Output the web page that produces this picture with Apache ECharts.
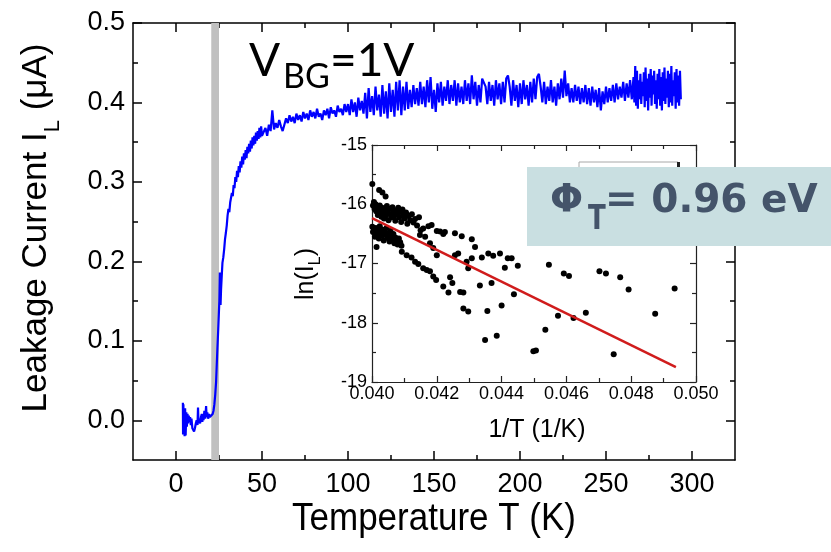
<!DOCTYPE html>
<html>
<head>
<meta charset="utf-8">
<script src="https://cdn.jsdelivr.net/npm/echarts@6/dist/echarts.min.js"></script>
<style>
  html, body { margin: 0; padding: 0; background: #ffffff; }
  #chart { width: 831px; height: 552px; }
</style>
</head>
<body>
<div id="chart"></div>
<script>
// Leakage current sweep, I_L (uA) versus temperature T (K), V_BG = 1 V
const sweep = [
  [4.0,0.022],[4.1,-0.018],[4.3,0.020],[4.5,-0.015],[4.8,0.012],[5.0,-0.020],[5.3,0.015],[5.6,-0.019],
  [6.0,0.010],[6.3,-0.008],[6.7,0.008],[7.0,-0.004],[7.4,0.006],[7.8,-0.002],[8.2,0.004],[8.6,-0.006],
  [9.0,0.002],[9.5,-0.010],[10.0,-0.012],[10.5,-0.014],[11.0,-0.010],[11.5,-0.004],[12.0,0.000],[12.5,-0.006],
  [12.8,0.016],[13.1,-0.004],[13.5,0.002],[14.0,-0.004],[14.5,0.004],[15.0,0.008],[15.3,-0.002],[15.7,0.006],
  [16.0,0.000],[16.5,0.012],[17.0,0.002],[17.5,0.018],[17.8,0.004],[18.2,0.010],[18.7,0.002],[19.2,0.008],
  [19.7,0.004],[20.2,0.006],[20.8,0.004],[21.3,0.008],[21.8,0.012],[22.3,0.020],[22.8,0.032],[23.3,0.048],
  [23.7,0.070],[24.1,0.092],[24.5,0.112],[24.8,0.128],[25.2,0.150],[25.5,0.186],[25.7,0.160],[25.9,0.145],
  [26.2,0.165],[26.6,0.182],[27.0,0.198],[27.5,0.205],[28.0,0.215],[28.5,0.228],[29.0,0.236],[29.5,0.245],
  [30.0,0.258],[30.5,0.266],[31.0,0.262],[31.5,0.274],[32.0,0.276],[32.5,0.286],[33.0,0.282],[33.5,0.296],
  [34.0,0.292],[34.5,0.306],[35.0,0.300],[35.5,0.314],[36.0,0.306],[36.5,0.320],[37.0,0.312],[37.5,0.326],
  [38.0,0.318],[38.5,0.332],[39.0,0.322],[39.5,0.336],[40.0,0.328],[40.5,0.340],[41.0,0.330],[41.5,0.344],
  [42.0,0.336],[42.5,0.348],[43.0,0.338],[43.5,0.352],[44.0,0.342],[44.5,0.356],[45.0,0.346],[45.5,0.358],
  [46.0,0.348],[46.5,0.362],[47.0,0.352],[47.5,0.364],[48.0,0.354],[48.5,0.368],[49.0,0.356],[49.5,0.370],
  [50.0,0.358],[51,0.360],[52,0.368],[53,0.358],[54,0.372],[55,0.364],[56,0.390],[57,0.366],[58,0.374],[59,0.368],
  [60,0.378],[61,0.370],[62,0.364],[63,0.372],[64,0.380],[65,0.374],[66,0.384],[67,0.376],[68,0.382],[69,0.374],
  [70,0.386],[71,0.378],[72,0.384],[73,0.376],[74,0.388],[75,0.380],[76,0.386],[77,0.378],[78,0.390],[79,0.382],
  [80,0.388],[81,0.380],[82,0.392],[83,0.382],[84,0.386],[85,0.378],[86,0.390],[87,0.384],[88,0.392],[89,0.380],
  [90,0.394],[91,0.386],[92,0.390],[93,0.382],[94,0.396],[95,0.388],[96,0.392],[97,0.384],[98,0.398],[99,0.388],
  [100,0.398],[101,0.384],[102,0.404],[103,0.388],[104,0.400],[105,0.382],[106,0.406],[107,0.390],[108,0.402],[109,0.386],
  [110,0.412],[111,0.380],[112,0.418],[113,0.388],[114,0.408],[115,0.384],[116,0.420],[117,0.390],[118,0.410],[119,0.382],
  [120,0.422],[121,0.386],[122,0.414],[123,0.380],[124,0.424],[125,0.388],[126,0.416],[127,0.382],[128,0.426],[129,0.390],
  [130,0.428],[131,0.384],[132,0.420],[133,0.390],[134,0.426],[135,0.392],[136,0.416],[137,0.394],[138,0.422],[139,0.398],
  [140,0.418],[141,0.396],[142,0.426],[143,0.398],[144,0.420],[145,0.394],[146,0.428],[147,0.400],[148,0.432],[149,0.392],
  [150,0.416],[151,0.388],[152,0.424],[153,0.400],[154,0.426],[155,0.396],[156,0.420],[157,0.402],[158,0.428],[159,0.398],
  [160,0.422],[161,0.402],[162,0.428],[163,0.396],[164,0.424],[165,0.400],[166,0.420],[167,0.398],[168,0.428],[169,0.402],
  [170,0.424],[171,0.398],[172,0.434],[173,0.404],[174,0.426],[175,0.396],[176,0.422],[177,0.400],[178,0.430],[179,0.432],
  [180,0.420],[181,0.398],[182,0.426],[183,0.402],[184,0.422],[185,0.396],[186,0.428],[187,0.404],[188,0.424],[189,0.398],
  [190,0.426],[191,0.400],[192,0.430],[193,0.434],[194,0.420],[195,0.396],[196,0.428],[197,0.402],[198,0.422],[199,0.394],
  [200,0.424],[201,0.398],[202,0.428],[203,0.404],[204,0.422],[205,0.396],[206,0.426],[207,0.400],[208,0.430],[209,0.404],
  [210,0.432],[211,0.436],[212,0.420],[213,0.400],[214,0.426],[215,0.398],[216,0.420],[217,0.402],[218,0.428],[219,0.400],
  [220,0.420],[221,0.396],[222,0.424],[223,0.404],[224,0.430],[225,0.406],[226,0.440],[227,0.408],[228,0.424],[229,0.400],
  [230,0.418],[231,0.400],[232,0.422],[233,0.402],[234,0.420],[235,0.398],[236,0.418],[237,0.400],[238,0.422],[239,0.398],
  [240,0.418],[241,0.396],[242,0.420],[243,0.400],[244,0.416],[245,0.394],[246,0.418],[247,0.390],[248,0.414],[249,0.398],
  [250,0.420],[251,0.400],[252,0.418],[253,0.402],[254,0.422],[255,0.400],[256,0.424],[257,0.404],[258,0.420],[259,0.406],
  [260,0.426],[261,0.402],[262,0.424],[263,0.406],[264,0.428],[265,0.404],
  [266,0.432],[266.5,0.400],[267,0.446],[267.5,0.396],[268,0.440],[268.5,0.392],[269,0.428],[269.5,0.404],
  [270,0.436],[270.5,0.398],[271,0.426],[271.5,0.408],[272,0.438],[272.5,0.394],[273,0.444],[273.5,0.402],
  [274,0.430],[274.5,0.390],[275,0.436],[275.5,0.406],[276,0.442],[276.5,0.396],[277,0.434],[277.5,0.410],
  [278,0.440],[278.5,0.398],[279,0.428],[279.5,0.392],[280,0.436],[280.5,0.404],[281,0.442],[281.5,0.396],
  [282,0.432],[282.5,0.390],[283,0.438],[283.5,0.402],[284,0.444],[284.5,0.398],[285,0.430],[285.5,0.406],
  [286,0.440],[286.5,0.394],[287,0.436],[287.5,0.400],[288,0.446],[288.5,0.396],[289,0.428],[289.5,0.408],
  [290,0.438],[290.5,0.392],[291,0.442],[291.5,0.400],[292,0.434],[292.5,0.396],[293,0.440],[293.5,0.404]
];

// Shaded temperature window (K)
const bandT = [20.5, 25];

// Arrhenius points: ln(I_L) versus 1/T (1/K)
const arrhenius = [
  [0.04001,-15.66],[0.04022,-15.76],[0.04032,-15.80],[0.04042,-15.87],
  [0.04003,-16.02],[0.04006,-15.96],[0.04008,-16.08],[0.04011,-16.00],[0.04013,-16.12],[0.04016,-16.04],
  [0.04018,-16.18],[0.04021,-16.09],[0.04024,-16.02],[0.04026,-16.14],[0.04029,-16.21],[0.04031,-16.06],
  [0.04034,-16.16],[0.04037,-16.24],[0.04040,-16.10],[0.04043,-16.19],[0.04046,-16.03],[0.04048,-16.13],
  [0.04051,-16.27],[0.04054,-16.08],[0.04057,-16.17],[0.04060,-16.22],[0.04063,-16.05],[0.04066,-16.12],
  [0.04069,-16.19],[0.04072,-16.28],[0.04075,-16.10],[0.04078,-16.16],[0.04081,-16.06],[0.04084,-16.22],
  [0.04087,-16.13],[0.04090,-16.30],[0.04094,-16.09],[0.04097,-16.18],[0.04101,-16.24],[0.04105,-16.14],
  [0.04109,-16.33],[0.04113,-16.20],[0.04118,-16.27],[0.04123,-16.17],[0.04128,-16.31],[0.04133,-16.25],
  [0.04139,-16.36],[0.04145,-16.22],[0.04150,-16.44],
  [0.04001,-16.38],[0.04003,-16.47],[0.04006,-16.42],[0.04009,-16.55],[0.04012,-16.40],[0.04015,-16.50],
  [0.04018,-16.44],[0.04021,-16.58],[0.04024,-16.37],[0.04027,-16.48],[0.04030,-16.53],[0.04033,-16.43],
  [0.04036,-16.61],[0.04039,-16.46],[0.04042,-16.52],[0.04045,-16.40],[0.04048,-16.57],[0.04051,-16.49],
  [0.04054,-16.63],[0.04057,-16.45],[0.04060,-16.54],[0.04063,-16.60],[0.04066,-16.50],[0.04069,-16.66],
  [0.04072,-16.56],[0.04075,-16.62],[0.04079,-16.68],[0.04083,-16.58],[0.04087,-16.64],[0.04091,-16.70],
  [0.04014,-16.72],
  [0.04092,-16.80],[0.04107,-16.86],[0.04122,-16.90],[0.04133,-16.97],[0.04143,-17.01],[0.04158,-17.08],
  [0.04169,-17.11],[0.04179,-17.13],[0.04189,-17.22],[0.04198,-17.28],[0.04220,-17.39],[0.04236,-17.49],
  [0.04241,-17.23],[0.04248,-17.33],[0.04272,-17.48],[0.04282,-17.49],[0.04282,-17.76],[0.04297,-17.81],
  [0.04333,-17.37],[0.04349,-18.29],[0.04356,-17.80],[0.04369,-17.33],[0.04385,-18.22],[0.04400,-17.71],
  [0.04438,-17.52],[0.04498,-18.48],
  [0.04158,-16.41],[0.04174,-16.37],[0.04184,-16.35],[0.04200,-16.45],[0.04210,-16.46],[0.04220,-16.50],
  [0.04225,-16.47],[0.04256,-16.49],[0.04277,-16.54],[0.04308,-16.59],[0.04318,-16.72],[0.04256,-16.86],
  [0.04266,-16.83],[0.04292,-16.97],[0.04308,-16.91],[0.04339,-16.90],[0.04359,-16.83],[0.04374,-16.87],
  [0.04395,-16.83],[0.04410,-17.07],[0.04419,-16.91],[0.04431,-16.91],[0.04450,-17.04],[0.04297,-17.08],
  [0.04200,-16.86],[0.04189,-16.74],[0.04179,-16.66],[0.04164,-16.55],[0.04148,-16.52],
  [0.04506,-18.47],[0.04535,-18.12],[0.04546,-17.02],[0.04574,-17.88],[0.04592,-17.17],[0.04608,-17.21],
  [0.04622,-17.92],[0.04660,-17.83],[0.04702,-17.13],[0.04722,-17.17],[0.04746,-18.53],[0.04766,-17.23],
  [0.04792,-17.44],[0.04874,-17.85],[0.04934,-17.42]
];

// Linear fit through the Arrhenius points
const arrheniusFit = [[0.0400,-16.236],[0.04938,-18.747]];

// Axis ticks
const tMajor = [0, 50, 100, 150, 200, 250, 300];
const tMinor = [25, 75, 125, 175, 225, 275];
const iMajor = [0, 0.1, 0.2, 0.3, 0.4, 0.5];
const iMinor = [0.05, 0.15, 0.25, 0.35, 0.45];
const invTMajor = [0.040, 0.042, 0.044, 0.046, 0.048, 0.050];
const invTMinor = [0.041, 0.043, 0.045, 0.047, 0.049];
const lnMajor = [-19, -18, -17, -16, -15];
const lnMinor = [-18.5, -17.5, -16.5, -15.5];

const SANS = '"Liberation Sans", Arial, Helvetica, sans-serif';
const INK = '#000000';

function tickAxis(opts) {
  // One tick layer of an axis: line, ticks and (optionally) labels
  const a = {
    type: 'value',
    gridIndex: opts.grid,
    position: opts.position,
    min: opts.min,
    max: opts.max,
    splitLine: { show: false },
    axisLine: { show: !!opts.line, onZero: false, lineStyle: { color: opts.lineColor || INK, width: opts.lineWidth || 1.5 } },
    axisTick: { show: true, inside: true, length: opts.len, customValues: opts.ticks,
                lineStyle: { color: opts.lineColor || INK, width: opts.lineWidth || 1.5 } },
    axisLabel: { show: false }
  };
  if (opts.labels) {
    a.axisLabel = {
      show: true,
      customValues: opts.labels,
      formatter: opts.formatter,
      color: INK,
      fontFamily: SANS,
      fontSize: opts.fontSize,
      margin: opts.margin
    };
  }
  return a;
}

const xAxes = [
  // main plot
  tickAxis({ grid: 0, position: 'bottom', min: -25, max: 325, line: true, len: 9, ticks: tMajor,
             labels: tMajor, formatter: v => String(v), fontSize: 27, margin: 11 }),
  tickAxis({ grid: 0, position: 'bottom', min: -25, max: 325, len: 5, ticks: tMinor }),
  tickAxis({ grid: 0, position: 'top', min: -25, max: 325, line: true, len: 9, ticks: tMajor }),
  tickAxis({ grid: 0, position: 'top', min: -25, max: 325, len: 5, ticks: tMinor }),
  // inset
  tickAxis({ grid: 1, position: 'bottom', min: 0.040, max: 0.050, line: true, len: 6, ticks: invTMajor,
             labels: invTMajor, formatter: v => v.toFixed(3), fontSize: 18, margin: 3,
             lineColor: '#222', lineWidth: 1.2 }),
  tickAxis({ grid: 1, position: 'bottom', min: 0.040, max: 0.050, len: 4, ticks: invTMinor, lineColor: '#222', lineWidth: 1.2 }),
  tickAxis({ grid: 1, position: 'top', min: 0.040, max: 0.050, line: true, len: 6, ticks: invTMajor, lineColor: '#222', lineWidth: 1.2 }),
  tickAxis({ grid: 1, position: 'top', min: 0.040, max: 0.050, len: 4, ticks: invTMinor, lineColor: '#222', lineWidth: 1.2 })
];

const yAxes = [
  tickAxis({ grid: 0, position: 'left', min: -0.05, max: 0.5, line: true, len: 9, ticks: iMajor,
             labels: iMajor, formatter: v => v.toFixed(1), fontSize: 27, margin: 8 }),
  tickAxis({ grid: 0, position: 'left', min: -0.05, max: 0.5, len: 5, ticks: iMinor }),
  tickAxis({ grid: 0, position: 'right', min: -0.05, max: 0.5, line: true, len: 9, ticks: iMajor }),
  tickAxis({ grid: 0, position: 'right', min: -0.05, max: 0.5, len: 5, ticks: iMinor }),
  tickAxis({ grid: 1, position: 'left', min: -19, max: -15, line: true, len: 6, ticks: lnMajor,
             labels: lnMajor, formatter: v => String(v), fontSize: 18, margin: 5,
             lineColor: '#222', lineWidth: 1.2 }),
  tickAxis({ grid: 1, position: 'left', min: -19, max: -15, len: 4, ticks: lnMinor, lineColor: '#222', lineWidth: 1.2 }),
  tickAxis({ grid: 1, position: 'right', min: -19, max: -15, line: true, len: 6, ticks: lnMajor, lineColor: '#222', lineWidth: 1.2 }),
  tickAxis({ grid: 1, position: 'right', min: -19, max: -15, len: 4, ticks: lnMinor, lineColor: '#222', lineWidth: 1.2 })
];

const chart = echarts.init(document.getElementById('chart'), null, { renderer: 'canvas' });

chart.setOption({
  animation: false,
  backgroundColor: '#ffffff',
  grid: [
    { left: 133, top: 23, width: 602, height: 437 },
    { left: 372, top: 145, width: 324, height: 237 }
  ],
  xAxis: xAxes,
  yAxis: yAxes,
  series: [
    {
      // shaded temperature window
      type: 'line', xAxisIndex: 0, yAxisIndex: 0, data: [], z: 1, silent: true,
      markArea: {
        silent: true,
        itemStyle: { color: '#c0c0c0', opacity: 1 },
        data: [[{ xAxis: bandT[0] }, { xAxis: bandT[1] }]]
      }
    },
    {
      type: 'line', xAxisIndex: 0, yAxisIndex: 0, data: sweep, z: 3,
      showSymbol: false, symbol: 'none',
      lineStyle: { color: '#0000ff', width: 2.2 }
    },
    {
      type: 'scatter', xAxisIndex: 4, yAxisIndex: 4, data: arrhenius, z: 4,
      symbol: 'circle', symbolSize: 6,
      itemStyle: { color: '#000000', opacity: 1 }
    },
    {
      type: 'line', xAxisIndex: 4, yAxisIndex: 4, data: arrheniusFit, z: 5,
      showSymbol: false, symbol: 'none',
      lineStyle: { color: '#d01c1c', width: 2.5 }
    }
  ],
  graphic: [
    // legend frame inside the inset
    { type: 'rect', z: 20, shape: { x: 579, y: 162, width: 99, height: 40 },
      style: { fill: '#ffffff', stroke: '#a8a8a8', lineWidth: 1 } },
    { type: 'rect', z: 21, shape: { x: 677, y: 162, width: 3, height: 5 }, style: { fill: '#222' } },
    // activation energy box
    { type: 'rect', z: 30, shape: { x: 527, y: 167, width: 304, height: 79 },
      style: { fill: '#c9dfe1' } },
    { type: 'text', z: 31, x: 550, y: 202,
      style: { text: 'Φ', fill: '#44546a', font: 'bold 39px "DejaVu Sans", sans-serif',
               align: 'left', verticalAlign: 'middle' } },
    { type: 'text', z: 31, x: 588, y: 220, scaleY: 1.3, originX: 0, originY: 0,
      style: { text: 'T', fill: '#44546a', font: 'bold 26px "DejaVu Sans", sans-serif',
               align: 'left', verticalAlign: 'middle' } },
    { type: 'text', z: 31, x: 605, y: 202,
      style: { text: '= 0.96 eV', fill: '#44546a', font: 'bold 39px "DejaVu Sans", sans-serif',
               align: 'left', verticalAlign: 'middle' } },
    // gate bias annotation
    { type: 'text', z: 31, x: 249, y: 61,
      style: { text: 'V', fill: '#000', font: '46px Lato, sans-serif', align: 'left', verticalAlign: 'middle' } },
    { type: 'text', z: 31, x: 283, y: 77,
      style: { text: 'BG', fill: '#000', font: '34px Lato, sans-serif', align: 'left', verticalAlign: 'middle' } },
    { type: 'text', z: 31, x: 330, y: 61,
      style: { text: '=1V', fill: '#000', font: '46px Lato, sans-serif', align: 'left', verticalAlign: 'middle' } },
    // axis titles
    { type: 'text', z: 31, x: 434, y: 519, scaleY: 1.12, originX: 0, originY: 0,
      style: { text: 'Temperature T (K)', fill: '#000', font: '35px ' + SANS,
               align: 'center', verticalAlign: 'middle' } },
    { type: 'text', z: 31, x: 36, y: 228, rotation: Math.PI / 2,
      style: {
        text: '{a|Leakage Current I}{s|L}{a| (μA)}',
        align: 'center', verticalAlign: 'middle',
        rich: {
          a: { fontSize: 35, fontFamily: SANS, fill: '#000', lineHeight: 56 },
          s: { fontSize: 22, fontFamily: SANS, fill: '#000', lineHeight: 20, verticalAlign: 'bottom' }
        }
      } },
    { type: 'text', z: 31, x: 537, y: 430,
      style: { text: '1/T (1/K)', fill: '#000', font: '25px ' + SANS,
               align: 'center', verticalAlign: 'middle' } },
    { type: 'text', z: 31, x: 306, y: 274, rotation: Math.PI / 2,
      style: {
        text: '{a|ln(I}{s|L}{a|)}',
        align: 'center', verticalAlign: 'middle',
        rich: {
          a: { fontSize: 25, fontFamily: SANS, fill: '#000', lineHeight: 36 },
          s: { fontSize: 16, fontFamily: SANS, fill: '#000', lineHeight: 16, verticalAlign: 'bottom' }
        }
      } }
  ]
});
</script>
</body>
</html>
